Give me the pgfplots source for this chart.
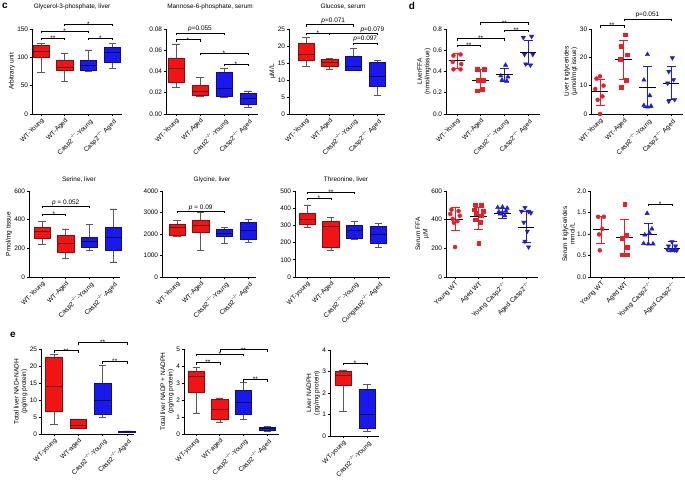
\documentclass[border=0pt]{standalone}
\usepackage{fontspec}
\setmainfont{Liberation Sans}
\usepackage{pgfplots}
\pgfplotsset{compat=1.18}
\usepgfplotslibrary{statistics}

\definecolor{bred}{RGB}{240,20,20}
\definecolor{bblue}{RGB}{25,25,235}
\definecolor{sred}{RGB}{232,30,40}
\definecolor{sblue}{RGB}{30,30,210}

\newcommand{\fs}{\fontsize{6.5bp}{7.5bp}\selectfont}
\newcommand{\ft}{\fontsize{6.4bp}{7.5bp}\selectfont}
\newcommand{\cs}{\textsuperscript{−/−}}

% significance brackets: x1, x2, y, xmid, text
\newcommand{\sigs}[5]{%
  \draw[line width=0.45bp] ([yshift=-2bp]axis cs:#1,#3) -- (axis cs:#1,#3) -- (axis cs:#2,#3) -- ([yshift=-2bp]axis cs:#2,#3);
  \node[anchor=south, inner sep=0pt, yshift=-2.6bp, font=\fs] at (axis cs:#4,#3) {#5};}
\newcommand{\sigp}[5]{%
  \draw[line width=0.45bp] ([yshift=-2bp]axis cs:#1,#3) -- (axis cs:#1,#3) -- (axis cs:#2,#3) -- ([yshift=-2bp]axis cs:#2,#3);
  \node[anchor=south, inner sep=0.4bp, font=\fs] at (axis cs:#4,#3) {#5};}

\pgfplotsset{
  panel/.style={
    scale only axis, anchor=south west, clip=false,
    axis x line*=bottom, axis y line*=left,
    axis line style={line width=0.6bp},
    tick align=outside, major tick length=2.5bp,
    tick style={black, line width=0.6bp},
    xtick={1,2,3,4}, scaled y ticks=false,
    xticklabel style={rotate=45, anchor=north east, inner sep=0.8bp, font=\fs},
    yticklabel style={font=\fs, inner sep=1.2bp},
    ylabel style={font=\fs, align=center, inner sep=1bp},
    boxplot/draw direction=y,
    /pgf/number format/assume math mode=true,
    /pgf/number format/1000 sep={},
  },
  dec2/.style={yticklabel style={/pgf/number format/fixed, /pgf/number format/fixed zerofill, /pgf/number format/precision=2}},
  dec1/.style={yticklabel style={/pgf/number format/fixed, /pgf/number format/fixed zerofill, /pgf/number format/precision=1}},
  rb/.style={fill=bred, draw=bred!60!black, line width=0.5bp,
    boxplot/draw direction=y,
    boxplot/box extend=0.68, boxplot/whisker extend=0.3,
    boxplot/every median/.style={draw=bred!40!black, line width=0.6bp},
    boxplot/every whisker/.style={draw=black!65, line width=0.5bp}},
  bb/.style={fill=bblue, draw=bblue!55!black, line width=0.5bp,
    boxplot/draw direction=y,
    boxplot/box extend=0.68, boxplot/whisker extend=0.3,
    boxplot/every median/.style={draw=bblue!35!black, line width=0.6bp},
    boxplot/every whisker/.style={draw=black!65, line width=0.5bp}},
  rc/.style={only marks, mark=*, mark size=2bp, color=sred},
  rs/.style={only marks, mark=square*, mark size=1.9bp, color=sred},
  bt/.style={only marks, mark=triangle*, mark size=2.5bp, color=sblue},
  bd/.style={only marks, mark=triangle*, mark size=2.5bp, color=sblue, mark options={rotate=180}},
  meanl/.style={black, line width=0.8bp, mark=none},
  sdr/.style={sred, line width=0.7bp, mark=-, mark size=4.5bp, mark options={solid, line width=0.7bp}},
  sdb/.style={sblue, line width=0.7bp, mark=-, mark size=4.5bp, mark options={solid, line width=0.7bp}},
}

\begin{document}
\begin{tikzpicture}[x=1bp,y=1bp]
\useasboundingbox (0,0) rectangle (685,486);

% panel letters and titles
\node[font=\fontsize{10bp}{11bp}\selectfont\bfseries] at (5,480) {c};
\node[font=\fontsize{10bp}{11bp}\selectfont\bfseries] at (412,480) {d};
\node[font=\fontsize{10bp}{11bp}\selectfont\bfseries] at (13,151) {e};
\node[font=\ft] at (72,479) {Glycerol-3-phosphate, liver};
\node[font=\ft] at (210,479) {Mannose-6-phosphate, serum};
\node[font=\ft] at (343,479) {Glucose, serum};
\node[font=\ft] at (79,306) {Serine, liver};
\node[font=\ft] at (212,306) {Glycine, liver};
\node[font=\ft] at (346,306) {Threonine, liver};

% c1 Glycerol-3-phosphate
\begin{axis}[panel, at={(32bp,372bp)}, width=89.6bp, height=85bp,
  xmin=0.62, xmax=4.4, ymin=0, ymax=150, ytick={0,50,100,150},
  xticklabels={WT-Young, WT-Aged, Casp2\cs-Young, Casp2\cs\ Aged},
  ylabel={Arbitrary unit}]
\addplot[rb, boxplot prepared={draw position=1, lower whisker=74, lower quartile=100, median=111, upper quartile=122, upper whisker=125}] coordinates {};
\addplot[rb, boxplot prepared={draw position=2, lower whisker=57, lower quartile=78, median=82, upper quartile=95, upper whisker=108}] coordinates {};
\addplot[bb, boxplot prepared={draw position=3, lower whisker=75, lower quartile=77, median=86, upper quartile=95, upper whisker=113}] coordinates {};
\addplot[bb, boxplot prepared={draw position=4, lower whisker=80, lower quartile=91, median=108, upper quartile=118, upper whisker=125}] coordinates {};
\sigs{2}{4}{159}{3}{*}
\sigs{1}{3}{146}{2}{*}
\sigs{1}{2}{134}{1.5}{**}
\sigs{3}{4}{134}{3.5}{*}
\end{axis}

% c2 Mannose-6-phosphate
\begin{axis}[panel, dec2, at={(166bp,372bp)}, width=91.6bp, height=85bp,
  xmin=0.583, xmax=4.4, ymin=0, ymax=0.08, ytick={0,0.02,0.04,0.06,0.08},
  xticklabels={WT-Young, WT-Aged, Casp2\cs-Young, Casp2\cs\ Aged}]
\addplot[rb, boxplot prepared={draw position=1, lower whisker=0.025, lower quartile=0.030, median=0.043, upper quartile=0.052, upper whisker=0.066}] coordinates {};
\addplot[rb, boxplot prepared={draw position=2, lower whisker=0.017, lower quartile=0.018, median=0.0218, upper quartile=0.027, upper whisker=0.0346}] coordinates {};
\addplot[bb, boxplot prepared={draw position=3, lower whisker=0.016, lower quartile=0.017, median=0.024, upper quartile=0.039, upper whisker=0.043}] coordinates {};
\addplot[bb, boxplot prepared={draw position=4, lower whisker=0.0064, lower quartile=0.0095, median=0.0147, upper quartile=0.0193, upper whisker=0.0218}] coordinates {};
\sigp{1}{3}{0.0763}{2}{\textit{p}=0.055}
\sigs{1}{2}{0.0699}{1.5}{*}
\sigs{2}{4}{0.057}{3}{*}
\sigs{3}{4}{0.0469}{3.5}{*}
\end{axis}

% c3 Glucose
\begin{axis}[panel, at={(289bp,372bp)}, width=96.4bp, height=85bp,
  xmin=0.283, xmax=4.35, ymin=0, ymax=25, ytick={0,5,10,15,20,25},
  xticklabels={WT-Young, WT-Aged, Casp2\cs-Young, Casp2\cs\ Aged},
  ylabel={µM/L}]
\addplot[rb, boxplot prepared={draw position=1, lower whisker=14.0, lower quartile=15.8, median=17.7, upper quartile=20.7, upper whisker=22.6}] coordinates {};
\addplot[rb, boxplot prepared={draw position=2, lower whisker=13.3, lower quartile=14.0, median=15.2, upper quartile=16.0, upper whisker=16.3}] coordinates {};
\addplot[bb, boxplot prepared={draw position=3, lower whisker=12.8, lower quartile=13.0, median=14.0, upper quartile=17.0, upper whisker=19.2}] coordinates {};
\addplot[bb, boxplot prepared={draw position=4, lower whisker=5.4, lower quartile=8.1, median=11.1, upper quartile=15.3, upper whisker=15.7}] coordinates {};
\sigp{1}{3}{26.3}{2.15}{\textit{p}=0.071}
\sigs{1}{2}{23.8}{1.5}{*}
\sigp{2}{4}{23.8}{3.8}{\textit{p}=0.079}
\sigp{3}{4}{20.9}{3.5}{\textit{p}=0.097}
\end{axis}

% d1 Liver FFA
\begin{axis}[panel, dec1, at={(446bp,372bp)}, width=93.9bp, height=85bp,
  xmin=0.536, xmax=4.5, ymin=0, ymax=0.8, ytick={0,0.2,0.4,0.6,0.8},
  xticklabels={WT-Young, WT-Aged, Casp2\cs-Young, Casp2\cs\ Aged},
  ylabel={LiverFFA\\(nmol/mgtissue)}]
\addplot[rc] coordinates {(0.85,0.55) (1.15,0.56) (0.82,0.49) (1.18,0.47) (0.85,0.42) (1.15,0.42)};
\addplot[rs] coordinates {(1.85,0.42) (2.15,0.42) (1.88,0.32) (2.1,0.32) (1.85,0.22) (2.05,0.23)};
\addplot[bt] coordinates {(3.05,0.46) (2.85,0.36) (3.15,0.35) (2.9,0.32) (3.1,0.31)};
\addplot[bd] coordinates {(3.8,0.72) (4.15,0.73) (3.85,0.56) (4.2,0.56) (3.9,0.47) (4.1,0.46)};
\addplot[sdr] coordinates {(1,0.43) (1,0.57)};
\addplot[sdr] coordinates {(2,0.23) (2,0.42)};
\addplot[sdb] coordinates {(3,0.31) (3,0.43)};
\addplot[sdb] coordinates {(4,0.47) (4,0.69)};
\addplot[meanl] coordinates {(0.65,0.50) (1.35,0.50)};
\addplot[meanl] coordinates {(1.65,0.32) (2.35,0.32)};
\addplot[meanl] coordinates {(2.65,0.37) (3.35,0.37)};
\addplot[meanl] coordinates {(3.65,0.58) (4.35,0.58)};
\sigs{2}{4}{0.86}{3}{**}
\sigs{3}{4}{0.79}{3.5}{**}
\sigs{1}{3}{0.71}{2}{**}
\sigs{1}{2}{0.65}{1.5}{**}
\end{axis}

% d2 Liver triglycerides
\begin{axis}[panel, at={(591bp,372bp)}, width=92bp, height=85bp,
  xmin=0.62, xmax=4.5, ymin=0, ymax=30, ytick={0,10,20,30},
  xticklabels={WT-Young, WT-Aged, Casp2\cs-Young, Casp2\cs\ Aged},
  ylabel={Liver triglycerides\\(µmol/mgt issue)}]
\addplot[rc] coordinates {(1.0,13.3) (0.85,12.5) (1.15,10.0) (0.8,8.8) (1.1,6.2) (0.9,5.0) (1.0,0)};
\addplot[rs] coordinates {(2.05,28) (1.9,24) (2.15,20.9) (1.85,19.2) (2.1,12) (1.9,9.5)};
\addplot[bt] coordinates {(3.0,21) (2.85,12) (3.1,6.5) (2.85,3.0) (3.15,2.8) (3.0,2.5)};
\addplot[bd] coordinates {(4.05,19.8) (3.9,15) (4.1,12.1) (3.85,10.9) (4.15,5.1) (3.9,4.5)};
\addplot[sdr] coordinates {(1,2.9) (1,12.1)};
\addplot[sdr] coordinates {(2,12.1) (2,26)};
\addplot[sdb] coordinates {(3,2.5) (3,16.8)};
\addplot[sdb] coordinates {(4,5.1) (4,16.8)};
\addplot[meanl] coordinates {(0.65,8.0) (1.35,8.0)};
\addplot[meanl] coordinates {(1.65,19.2) (2.35,19.2)};
\addplot[meanl] coordinates {(2.65,9.5) (3.35,9.5)};
\addplot[meanl] coordinates {(3.65,10.9) (4.35,10.9)};
\sigs{1}{2}{31.2}{1.5}{**}
\sigp{2}{4}{33.6}{3}{p=0.051}
\end{axis}

% c4 Serine
\begin{axis}[panel, at={(29bp,209bp)}, width=91.2bp, height=86bp,
  xmin=0.45, xmax=4.3, ymin=0, ymax=600, ytick={0,200,400,600},
  xticklabels={WT-Young, WT-Aged, Casp2\cs-Young, Casp2\cs-Aged},
  ylabel={Pmol/mg tissue}]
\addplot[rb, boxplot prepared={draw position=1, lower whisker=226, lower quartile=268, median=320, upper quartile=350, upper whisker=390}] coordinates {};
\addplot[rb, boxplot prepared={draw position=2, lower whisker=130, lower quartile=175, median=235, upper quartile=290, upper whisker=335}] coordinates {};
\addplot[bb, boxplot prepared={draw position=3, lower whisker=188, lower quartile=205, median=250, upper quartile=280, upper whisker=368}] coordinates {};
\addplot[bb, boxplot prepared={draw position=4, lower whisker=105, lower quartile=190, median=280, upper quartile=345, upper whisker=475}] coordinates {};
\sigp{1}{3}{493}{2}{\textit{p} = 0.052}
\sigs{1}{2}{437}{1.5}{*}
\end{axis}

% c5 Glycine
\begin{axis}[panel, at={(162bp,209bp)}, width=94.4bp, height=86bp,
  xmin=0.367, xmax=4.35, ymin=0, ymax=4000, ytick={0,1000,2000,3000,4000},
  xticklabels={WT-Young, WT-Aged, Casp2\cs-Young, Casp2\cs-Aged}]
\addplot[rb, boxplot prepared={draw position=1, lower whisker=1900, lower quartile=1930, median=2290, upper quartile=2475, upper whisker=2630}] coordinates {};
\addplot[rb, boxplot prepared={draw position=2, lower whisker=1245, lower quartile=2100, median=2410, upper quartile=2630, upper whisker=2990}] coordinates {};
\addplot[bb, boxplot prepared={draw position=3, lower whisker=1550, lower quartile=1900, median=2050, upper quartile=2200, upper whisker=2300}] coordinates {};
\addplot[bb, boxplot prepared={draw position=4, lower whisker=1620, lower quartile=1775, median=2160, upper quartile=2550, upper whisker=2680}] coordinates {};
\sigp{1}{3}{3051}{2}{\textit{p} = 0.09}
\end{axis}

% c6 Threonine
\begin{axis}[panel, at={(295bp,209bp)}, width=95bp, height=86bp,
  xmin=0.49, xmax=4.5, ymin=0, ymax=500, ytick={0,100,200,300,400,500},
  xticklabels={WT-young, WT-Aged, Casp2\cs-Young, Cungasp2\cs-Aged}]
\addplot[rb, boxplot prepared={draw position=1, lower whisker=291, lower quartile=304, median=333, upper quartile=372, upper whisker=420}] coordinates {};
\addplot[rb, boxplot prepared={draw position=2, lower whisker=155, lower quartile=171, median=295, upper quartile=326, upper whisker=345}] coordinates {};
\addplot[bb, boxplot prepared={draw position=3, lower whisker=217, lower quartile=223, median=271, upper quartile=300, upper whisker=324}] coordinates {};
\addplot[bb, boxplot prepared={draw position=4, lower whisker=171, lower quartile=194, median=248, upper quartile=295, upper whisker=310}] coordinates {};
\sigs{1}{3}{492}{2}{**}
\sigs{1}{2}{458}{1.5}{*}
\end{axis}

% d3 Serum FFA
\begin{axis}[panel, at={(446bp,209bp)}, width=92bp, height=86bp,
  xmin=0.62, xmax=4.5, ymin=0, ymax=600, ytick={0,200,400,600},
  xticklabels={Young WT, Aged WT, Young Casp2\cs, Aged Casp2\cs},
  ylabel={Serum FFA\\µM}]
\addplot[rc] coordinates {(0.85,470) (1.15,460) (0.8,440) (1.2,428) (0.9,405) (1.1,390) (0.95,379) (1.0,209)};
\addplot[rs] coordinates {(1.85,505) (2.1,500) (1.8,470) (2.2,460) (1.9,447) (2.1,428) (1.85,400) (2.05,381) (2.0,235)};
\addplot[bt] coordinates {(2.8,485) (3.0,488) (3.2,480) (2.85,455) (3.15,460) (2.9,440) (3.1,428) (3.0,450)};
\addplot[bd] coordinates {(3.95,484) (3.8,458) (4.1,458) (4.2,447) (3.9,381) (4.05,319) (3.95,249) (4.1,209)};
\addplot[sdr] coordinates {(1,327) (1,483)};
\addplot[sdr] coordinates {(2,333) (2,484)};
\addplot[sdb] coordinates {(3,412) (3,481)};
\addplot[sdb] coordinates {(4,240) (4,456)};
\addplot[meanl] coordinates {(0.65,405) (1.35,405)};
\addplot[meanl] coordinates {(1.65,423) (2.35,423)};
\addplot[meanl] coordinates {(2.65,447) (3.35,447)};
\addplot[meanl] coordinates {(3.65,349) (4.35,349)};
\end{axis}

% d4 Serum triglycerides
\begin{axis}[panel, dec1, at={(590bp,209bp)}, width=95bp, height=86bp,
  xmin=0.536, xmax=4.55, ymin=0, ymax=2, ytick={0,0.5,1,1.5,2},
  xticklabels={Young WT, Aged WT, Young Casp2\cs, Aged Casp2\cs},
  ylabel={Serum triglycerides\\mmol/L}]
\addplot[rc] coordinates {(0.88,1.40) (1.12,1.40) (1.05,1.12) (0.92,0.99) (0.95,0.62)};
\addplot[rs] coordinates {(2.0,1.70) (2.05,0.98) (1.9,0.90) (2.1,0.70) (1.9,0.52) (2.1,0.52)};
\addplot[bt] coordinates {(2.95,1.48) (3.15,1.12) (3.05,1.02) (2.85,0.98) (2.8,0.78) (3.0,0.77) (3.2,0.77)};
\addplot[bd] coordinates {(4.0,0.82) (3.85,0.72) (4.15,0.72) (3.8,0.64) (3.95,0.63) (4.1,0.63) (4.2,0.62)};
\addplot[sdr] coordinates {(1,0.78) (1,1.40)};
\addplot[sdr] coordinates {(2,0.49) (2,1.34)};
\addplot[sdb] coordinates {(3,0.76) (3,1.25)};
\addplot[sdb] coordinates {(4,0.60) (4,0.82)};
\addplot[meanl] coordinates {(0.65,1.10) (1.35,1.10)};
\addplot[meanl] coordinates {(1.65,0.92) (2.35,0.92)};
\addplot[meanl] coordinates {(2.65,1.00) (3.35,1.00)};
\addplot[meanl] coordinates {(3.65,0.67) (4.35,0.67)};
\sigs{3}{4}{1.70}{3.5}{*}
\end{axis}

% e1 NAD+NADH
\begin{axis}[panel, at={(41bp,52bp)}, width=93.2bp, height=85bp,
  xmin=0.465, xmax=4.3, ymin=0, ymax=25, ytick={0,5,10,15,20,25},
  xticklabels={WT-young, WT-aged, Casp2\cs-Young, Casp2\cs-Aged},
  ylabel={Total liver NAD+NADH\\(pg/mg protein)}]
\addplot[rb, boxplot prepared={draw position=1, lower whisker=2.9, lower quartile=6.7, median=14.0, upper quartile=22.6, upper whisker=23.5}] coordinates {};
\addplot[rb, boxplot prepared={draw position=2, lower whisker=1.6, lower quartile=1.8, median=2.5, upper quartile=4.2, upper whisker=4.4}] coordinates {};
\addplot[bb, boxplot prepared={draw position=3, lower whisker=4.9, lower quartile=5.9, median=9.8, upper quartile=15.0, upper whisker=20.2}] coordinates {};
\addplot[bb, fill=bblue!40!black, boxplot prepared={draw position=4, lower whisker=0.45, lower quartile=0.5, median=0.7, upper quartile=0.9, upper whisker=0.95}] coordinates {};
\sigs{1}{2}{24.5}{1.5}{**}
\sigs{2}{4}{26.9}{3}{**}
\sigs{3}{4}{21.3}{3.5}{**}
\end{axis}

% e2 NADP+NADPH
\begin{axis}[panel, at={(184bp,52bp)}, width=95bp, height=85bp,
  xmin=0.49, xmax=4.5, ymin=0, ymax=5, ytick={0,1,2,3,4,5},
  xticklabels={WT-young, WT-aged, Casp2\cs-Young, Casp2\cs-Aged},
  ylabel={Total liver NADP + NADPH\\(pg/mg protein)}]
\addplot[rb, boxplot prepared={draw position=1, lower whisker=1.24, lower quartile=2.47, median=3.39, upper quartile=3.69, upper whisker=3.94}] coordinates {};
\addplot[rb, boxplot prepared={draw position=2, lower whisker=0.71, lower quartile=0.88, median=1.47, upper quartile=2.02, upper whisker=2.12}] coordinates {};
\addplot[bb, boxplot prepared={draw position=3, lower whisker=0.84, lower quartile=1.18, median=1.86, upper quartile=2.57, upper whisker=3.04}] coordinates {};
\addplot[bb, boxplot prepared={draw position=4, lower whisker=0.18, lower quartile=0.2, median=0.35, upper quartile=0.41, upper whisker=0.45}] coordinates {};
\sigs{1}{2}{4.2}{1.5}{**}
\sigs{1}{3}{4.72}{2}{*}
\sigs{2}{4}{4.96}{3}{**}
\sigs{3}{4}{3.2}{3.5}{**}
\end{axis}

% e3 Liver NADPH
\begin{axis}[panel, at={(330bp,50bp)}, width=49bp, height=86bp,
  xmin=0.458, xmax=2.5, ymin=0, ymax=4, ytick={0,1,2,3,4}, xtick={1,2},
  xticklabels={WT-young, Casp2\cs-Young},
  ylabel={Liver NADPH\\(pg/mg protein)}]
\addplot[rb, boxplot prepared={draw position=1, lower whisker=1.16, lower quartile=2.37, median=2.84, upper quartile=2.99, upper whisker=3.07}] coordinates {};
\addplot[bb, boxplot prepared={draw position=2, lower whisker=0.23, lower quartile=0.36, median=1.02, upper quartile=2.17, upper whisker=2.40}] coordinates {};
\sigs{1}{2}{3.4}{1.5}{*}
\end{axis}
\end{tikzpicture}
\end{document}
